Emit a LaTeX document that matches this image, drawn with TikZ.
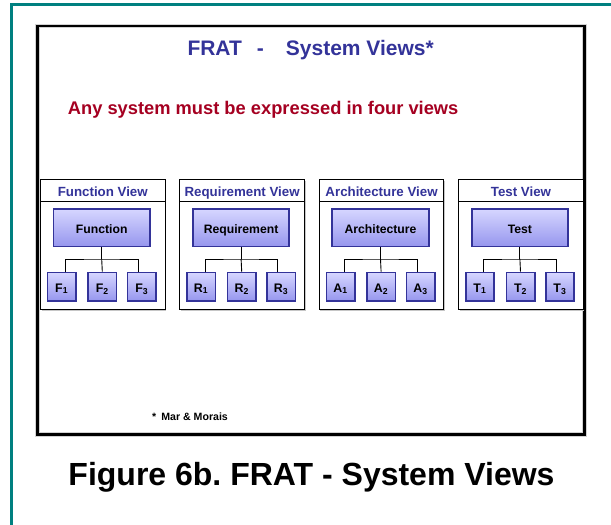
\documentclass[tikz,border=0pt]{standalone}
\usepackage{fontspec}
\setmainfont{Liberation Sans}
\usetikzlibrary{calc}
\frenchspacing

\definecolor{frameteal}{RGB}{0,128,128}
\definecolor{viewblue}{RGB}{51,51,153}
\definecolor{leadred}{RGB}{165,0,33}
\definecolor{boxtop}{RGB}{214,214,255}
\definecolor{boxbot}{RGB}{150,150,238}
\definecolor{boxedge}{RGB}{51,51,153}

\tikzset{
  headbox/.style={draw=black, line width=0.9pt, fill=white, anchor=north west,
    inner sep=0pt, minimum width=124.6pt, minimum height=21.4pt,
    text height=14pt, text depth=1.9pt,
    font=\bfseries\fontsize{13.3pt}{15pt}\selectfont, text=viewblue},
  bodybox/.style={draw=black, line width=0.9pt, fill=white, anchor=north west,
    inner sep=0pt, minimum width=124.6pt, minimum height=108.6pt},
  mainbox/.style={draw=boxedge, line width=1.8pt, top color=boxtop, bottom color=boxbot,
    minimum width=96.4pt, minimum height=37.6pt, inner sep=0pt,
    text height=13pt, text depth=1.1pt,
    font=\bfseries\fontsize{12.2pt}{14pt}\selectfont},
  leafbox/.style={draw=boxedge, line width=1.6pt, top color=boxtop, bottom color=boxbot,
    minimum width=28.4pt, minimum height=28.4pt, inner sep=0pt,
    text height=12.5pt, text depth=1.6pt,
    font=\bfseries\fontsize{12.4pt}{14pt}\selectfont},
  conn/.style={draw=black, line width=0.9pt},
}

\begin{document}
\begin{tikzpicture}[x=1pt, y=-1pt]
  \useasboundingbox (0,0) rectangle (611,525);
  \clip (0,0) rectangle (611,525);

  % outer teal page frame (left and top edges)
  \draw[frameteal, line width=2.7pt] (11.3,540) -- (11.3,4.7) -- (630,4.7);

  % slide frame
  \draw[gray!35, line width=4.6pt] (37.3,26) rectangle (584.7,434.7);
  \draw[black, line width=2.7pt] (37.3,26) rectangle (584.7,434.7);

  % slide title and lead sentence
  \node[anchor=base west, inner sep=0pt, text=viewblue,
        font=\bfseries\fontsize{21pt}{24pt}\selectfont]
    (title) at (187.3,55.5) {FRAT\hspace{15pt}-\hspace{22pt}System Views*};
  \node[anchor=base west, inner sep=0pt, text=leadred,
        font=\bfseries\fontsize{18.3pt}{21pt}\selectfont]
    (lead) at (67.7,114) {Any system must be expressed in four views};

  % the four view panels
  \foreach \i/\head/\main/\L in {0/Function View/Function/F,
                                 1/Requirement View/Requirement/R,
                                 2/Architecture View/Architecture/A,
                                 3/Test View/Test/T}{
    \pgfmathsetmacro{\px}{40+139.4*\i}
    \fill[gray!45] (\px+1.6,180.9) rectangle (\px+126.2,310.9);
    \node[bodybox] (body\i) at (\px,200.7) {};
    \node[headbox] (head\i) at (\px,179.3) {\head};
    \node[mainbox] (main\i) at (\px+61.7,227.7) {\main};
    \node[leafbox] (leaf\i-1) at (\px+21.7,286.7) {\L\textsubscript{1}};
    \node[leafbox] (leaf\i-2) at (\px+62.3,286.7) {\L\textsubscript{2}};
    \node[leafbox] (leaf\i-3) at (\px+101.7,286.7) {\L\textsubscript{3}};
    \coordinate (bar\i) at ($(main\i.south)+(0,11.6)$);
    \draw[conn] (main\i.south) -- (bar\i);
    \draw[conn] ([xshift=4pt]leaf\i-1.north) |- (bar\i) -| ([xshift=-3.4pt]leaf\i-3.north);
    \draw[conn] (bar\i) -- (leaf\i-2.north);
  }

  % source note
  \node[anchor=base west, inner sep=0pt,
        font=\bfseries\fontsize{10.6pt}{12pt}\selectfont]
    (note) at (152,420) {*\hspace{5pt}Mar \& Morais};

  % figure caption
  \node[anchor=base, inner sep=0pt, font=\bfseries\fontsize{32pt}{36pt}\selectfont]
    (caption) at (311.5,485) {Figure 6b. FRAT - System Views};
\end{tikzpicture}
\end{document}
